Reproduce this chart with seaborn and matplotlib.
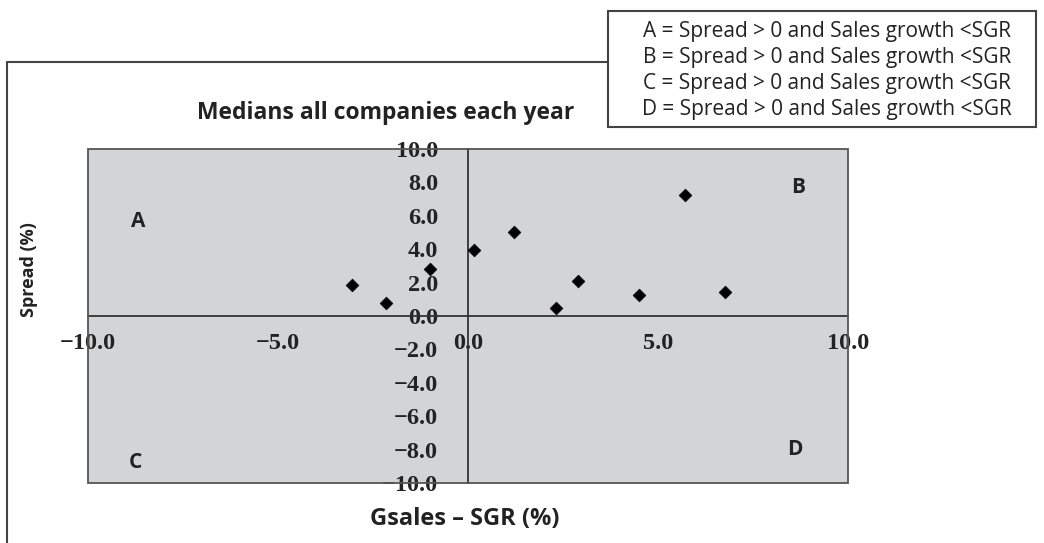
import matplotlib
matplotlib.use('Agg')
import matplotlib.pyplot as plt
from matplotlib.lines import Line2D
from matplotlib.patches import Rectangle
import seaborn as sns
import pandas as pd

# median values per year
gsales_minus_sgr = [-3.05, -2.15, -1.00, 0.16, 1.21, 2.31, 2.89, 4.50, 5.72, 6.76]
spread = [1.86, 0.80, 2.84, 3.94, 5.04, 0.46, 2.10, 1.24, 7.26, 1.44]

x_ticks = [-10, -5, 0, 5, 10]
y_ticks = [-10, -8, -6, -4, -2, 0, 2, 4, 6, 8, 10]

quadrant_names = ['A', 'B', 'C', 'D']
quadrant_pos = [(-8.68, 5.65), (8.7, 7.7), (-8.75, -8.8), (8.6, -8.0)]

legend_lines = [
    'A = Spread > 0 and Sales growth <SGR',
    'B = Spread > 0 and Sales growth <SGR',
    'C = Spread > 0 and Sales growth <SGR',
    'D = Spread > 0 and Sales growth <SGR',
]

title = 'Medians all companies each year'
x_label = 'Gsales \u2013 SGR (%)'
y_label = 'Spread (%)'

df = pd.DataFrame({'x': gsales_minus_sgr, 'y': spread})

sns.set_style('white')
plt.rcParams['font.family'] = ['Open Sans', 'DejaVu Sans']

W, H = 1044, 543
fig = plt.figure(figsize=(W / 100, H / 100), dpi=100)
ax = fig.add_axes([88 / W, 1 - 483 / H, 760 / W, 334 / H])
ax.set_facecolor('#d3d4d6')

sns.scatterplot(data=df, x='x', y='y', marker='D', s=42, color='black',
                edgecolor='black', linewidth=0.5, ax=ax, zorder=5)

ax.set_xlim(-10, 10)
ax.set_ylim(-10, 10)

# centre axes through zero, border around the plot area
line_col = '#333333'
for side in ['top', 'right']:
    ax.spines[side].set_visible(False)
ax.spines['left'].set_position(('data', 0))
ax.spines['bottom'].set_position(('data', 0))
for side in ['left', 'bottom']:
    ax.spines[side].set_color(line_col)
    ax.spines[side].set_linewidth(1.3)
ax.add_patch(Rectangle((0, 0), 1, 1, transform=ax.transAxes, fill=False,
                       edgecolor='#555555', linewidth=1.3, clip_on=False, zorder=6))

def fmt(v):
    return f'{v:.1f}'.replace('-', '\u2212')

ax.set_xticks(x_ticks)
ax.set_xticklabels([fmt(v) for v in x_ticks])
ax.set_yticks(y_ticks)
ax.set_yticklabels([fmt(v) for v in y_ticks])
ax.tick_params(axis='x', direction='out', length=9.5, width=1.1, color=line_col, pad=3)
ax.tick_params(axis='y', direction='out', length=10.5, width=1.1, color=line_col, pad=11)
for lab in ax.get_xticklabels() + ax.get_yticklabels():
    lab.set_fontfamily('Liberation Serif')
    lab.set_fontweight('bold')
    lab.set_fontsize(17.5)
    lab.set_color('#222222')
ax.set_xlabel('')
ax.set_ylabel('')

for name, (qx, qy) in zip(quadrant_names, quadrant_pos):
    ax.text(qx, qy, name, ha='center', va='center', fontsize=15,
            fontweight='bold', color='#222222')

# titles and axis labels
fig.text(386 / W, 1 - 119 / H, title, ha='center', va='baseline',
         fontsize=16.5, fontweight='bold', color='#222222')
fig.text(465 / W, 1 - 525 / H, x_label, ha='center', va='baseline',
         fontsize=17, fontweight='bold', color='#222222')
fig.text(29 / W, 1 - 270 / H, y_label, ha='center', va='center', rotation=90,
         fontsize=13, fontweight='bold', color='#222222')

# outer frame
fig.add_artist(Line2D([7 / W, 608 / W], [1 - 62 / H, 1 - 62 / H],
                      transform=fig.transFigure, color='#444444', linewidth=1.5))
fig.add_artist(Line2D([7 / W, 7 / W], [1 - 62 / H, 0], transform=fig.transFigure,
                      color='#444444', linewidth=1.5))

# key box
fig.add_artist(Rectangle((608 / W, 1 - 127 / H), 428 / W, 116 / H,
                         transform=fig.transFigure, facecolor='white',
                         edgecolor='#444444', linewidth=1.5))
for i, line in enumerate(legend_lines):
    fig.text(827 / W, 1 - (32 + i * 26) / H, line, ha='center', va='center',
             fontsize=15, color='#222222')

fig.savefig('out.png', dpi=100)
